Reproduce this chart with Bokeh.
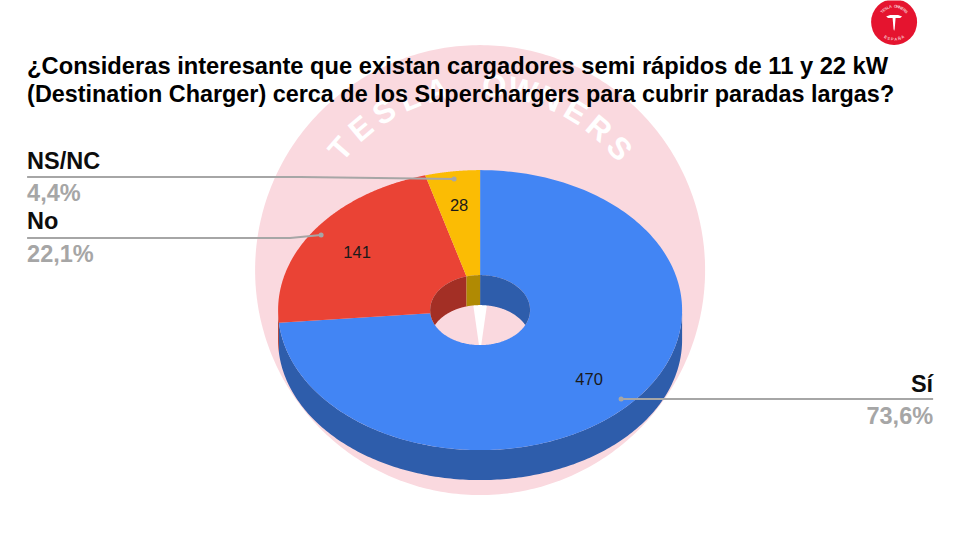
import numpy as np
from bokeh.plotting import figure
from bokeh.models import Range1d
from bokeh.core.properties import value
from bokeh.embed import file_html
from bokeh.resources import INLINE

TITLE = ["¿Consideras interesante que existan cargadores semi rápidos de 11 y 22 kW",
         "(Destination Charger) cerca de los Superchargers para cubrir paradas largas?"]
labels = ["Sí", "No", "NS/NC"]
counts = [470, 141, 28]
percents = ["73,6%", "22,1%", "4,4%"]
colors = ["#4285F4", "#EA4335", "#FBBC04"]
dark = ["#2E5DAB", "#A32F25", "#B08403"]
inner_dark = ["#2E5DAB", "#A32F25", "#B08A03"]
watermark = "TESLA OWNERS"
logo_bottom = "ESPAÑA"

CX, CY, RX, RY, DEPTH = 480, 310, 202, 140, 30
HX, HY = 50, 35
BG_X, BG_Y, BG_R = 480, 270, 225
LOGO_X, LOGO_Y = 894, 22

p = figure(width=944, height=524, output_backend="svg", toolbar_location=None,
           x_range=Range1d(0.4, 944.4), y_range=Range1d(524.4, 0.4), min_border=0,
           outline_line_color=None, background_fill_color="white")
p.axis.visible = False
p.grid.visible = False

FONT = value("Liberation Sans")

def ell(a, rx, ry, cy=CY):
    return CX + rx*np.sin(a), cy - ry*np.cos(a)

# watermark disc
t = np.linspace(0, 2*np.pi, 361)
p.patch(BG_X + BG_R*np.sin(t), BG_Y + BG_R*np.cos(t), fill_color="#FAD9DF", line_color=None)
# notch seen through the hole
p.patch([473, 487, 481, 479], [304, 304, 346, 346], fill_color="white", line_color=None)

# watermark letters
ang0, step = -49, 8.9
for i, c in enumerate(watermark):
    if c == " ":
        continue
    a = np.radians(ang0 + step*i)
    p.text([BG_X + 185*np.sin(a)], [BG_Y - 185*np.cos(a)], text=[c],
           angle=[-a], angle_units="rad", text_align="center", text_baseline="middle",
           text_color="white", text_font=FONT, text_font_style="bold", text_font_size="31px")

total = sum(counts)
edges = np.concatenate([[0], np.cumsum(counts)]) / total * 2*np.pi

for i in range(3):
    a0, a1 = edges[i], edges[i+1]
    # outer front wall
    lo, hi = max(a0, np.pi/2), min(a1, 3*np.pi/2)
    if hi > lo:
        a = np.linspace(lo, hi, 200)
        x, y = ell(a, RX, RY)
        x2, y2 = ell(a[::-1], RX, RY, CY + DEPTH)
        p.patch(np.r_[x, x2], np.r_[y, y2], fill_color=dark[i], line_color=None)
    # top annular sector
    a = np.linspace(a0, a1, 240)
    x, y = ell(a, RX, RY)
    x2, y2 = ell(a[::-1], HX, HY)
    p.patch(np.r_[x, x2], np.r_[y, y2], fill_color=colors[i], line_color=None)

# inner far wall: rim minus the rim shifted down by the depth
alim = np.pi/2
for i in range(3):
    a0, a1 = edges[i], edges[i+1]
    for s0, s1 in [(a0, a1), (a0 - 2*np.pi, a1 - 2*np.pi)]:
        lo, hi = max(s0, -alim), min(s1, alim)
        if hi <= lo:
            continue
        xs = np.linspace(CX + HX*np.sin(lo), CX + HX*np.sin(hi), 160)
        u = np.clip((xs - CX)/HX, -1, 1)
        top = CY - HY*np.sqrt(1 - u**2)
        bot = CY + DEPTH - HY*np.sqrt(1 - u**2)
        bot = np.minimum(bot, CY + HY*np.sqrt(1 - u**2))
        p.patch(np.r_[xs, xs[::-1]], np.r_[top, bot[::-1]], fill_color=inner_dark[i], line_color=None)

# count labels
cnt_pos = [(589, 379), (357, 252), (459, 205)]
for c, (x, y) in zip(counts, cnt_pos):
    p.text([x], [y], text=[str(c)], text_align="center", text_baseline="middle",
           text_color="#1a1a1a", text_font=FONT, text_font_size="16.5px")

# leader lines with dots
GREY = "#A6A6A6"
p.line([621, 933], [399, 399], line_color=GREY, line_width=2)
p.line([321, 290, 27], [235, 238, 238], line_color=GREY, line_width=2)
p.line([454, 300, 27], [179, 177, 177], line_color=GREY, line_width=2)
p.scatter([621, 321, 454], [399, 235, 179], size=5, fill_color=GREY, line_color=None)

# legend-style labels
lab_pos = [(933, 384, 416, "right"), (27, 221, 254, "left"), (27, 161, 193, "left")]
for (x, y1, y2, al), lb, pc in zip(lab_pos, labels, percents):
    p.text([x], [y1], text=[lb], text_align=al, text_baseline="middle", text_color="#0d0d0d",
           text_font=FONT, text_font_style="bold", text_font_size="23.5px")
    p.text([x], [y2], text=[pc], text_align=al, text_baseline="middle", text_color=GREY,
           text_font=FONT, text_font_style="bold", text_font_size="23.5px")

# title
for y, line, fs in zip([66, 94], TITLE, ["23.7px", "23.4px"]):
    p.text([27], [y], text=[line], text_align="left", text_baseline="middle", text_color="black",
           text_font=FONT, text_font_style="bold", text_font_size=fs)

# logo
p.scatter([LOGO_X], [LOGO_Y], size=46, fill_color="#E5142F", line_color=None)
p.patch([886, 890, 898, 902, 900, 895.5, 894.6, 894, 893.4, 892.5, 888],
        [16.5, 15, 15, 16.5, 18, 18, 29, 31, 29, 18, 18],
        fill_color="white", line_color=None)
for i, c in enumerate(logo_bottom):
    a = np.radians((i - (len(logo_bottom) - 1)/2) * 12)
    p.text([LOGO_X + 17*np.sin(a)], [LOGO_Y + 17*np.cos(a)], text=[c], angle=[a], angle_units="rad",
           text_align="center", text_baseline="middle", text_color="#F6C6CC", text_font=FONT,
           text_font_size="4px", text_font_style="bold")
for i, c in enumerate(watermark):
    if c == " ":
        continue
    a = np.radians((i - (len(watermark) - 1)/2) * 9)
    p.text([LOGO_X + 16*np.sin(a)], [LOGO_Y - 16*np.cos(a)], text=[c], angle=[-a], angle_units="rad",
           text_align="center", text_baseline="middle", text_color="#F6C6CC", text_font=FONT,
           text_font_size="4px", text_font_style="bold")

open("out.html", "w").write(file_html(p, INLINE))
